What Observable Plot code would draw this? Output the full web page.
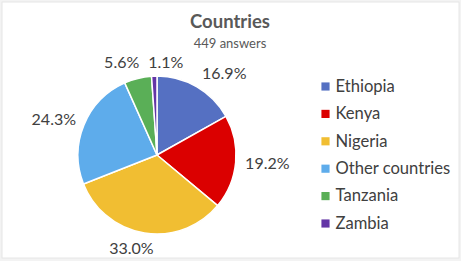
<!DOCTYPE html>
<html><head><meta charset="utf-8">
<script src="https://cdn.jsdelivr.net/npm/d3@7"></script>
<script src="https://cdn.jsdelivr.net/npm/@observablehq/plot@0.6"></script>
<style>body{margin:0;background:#fff} svg{display:block}</style>
</head><body><div id="chart"></div>
<script>
const countries = ["Ethiopia", "Kenya", "Nigeria", "Other countries", "Tanzania", "Zambia"];
const shares = [16.9, 19.2, 33.0, 24.3, 5.6, 1.1];
const palette = ["#5570c2", "#db0000", "#f1be32", "#5eaceb", "#5aaf57", "#6335a6"];
const title = "Countries";
const subtitle = "449 answers";

const W = 461, H = 261, CX = 157, CY = 155, R = 79;
const FONT = "Lato, sans-serif";
const rows = countries.map((c, i) => ({country: c, share: shares[i]}));
const pie = d3.pie().value(d => d.share).sort(null)(rows);

const labelSize = 16;
const ctx = document.createElement("canvas").getContext("2d");
ctx.font = `${labelSize}px Lato`;
const measure = t => { const m = ctx.measureText(t).width; return m > 0 ? m : t.length * labelSize * 0.5; };

// Outside-end label placement: the label box touches the slice's mid-angle ray
// just outside the rim, with the touching point sliding round the box.
const clamp = v => Math.max(0, Math.min(1, v));
const boxes = pie.map(p => {
  const a = (p.startAngle + p.endAngle) / 2;
  const text = p.data.share.toFixed(1) + "%";
  const w = measure(text), h = 14;
  const d = R + 9;
  const px = Math.sin(a) * d, py = -Math.cos(a) * d;
  const fx = clamp(0.5 - 1.7 * Math.sin(a)), fy = clamp(0.5 + 0.5 * Math.cos(a));
  return {cx: px + (0.5 - fx) * w, cy: py + (0.5 - fy) * h, w, h, text, share: p.data.share};
});
// push overlapping neighbours apart horizontally (smaller slice moves)
for (let i = 0; i < boxes.length; i++) {
  const A = boxes[i], B = boxes[(i + 1) % boxes.length];
  const gap = 9;
  if (Math.abs(A.cy - B.cy) < (A.h + B.h) / 2 && Math.abs(A.cx - B.cx) < (A.w + B.w) / 2 + gap) {
    const [small, big] = A.share < B.share ? [A, B] : [B, A];
    const dir = small.cx >= big.cx ? 1 : -1;
    small.cx = big.cx + dir * ((A.w + B.w) / 2 + gap);
    small.cy = big.cy;
  }
}
const labels = boxes.map(b => ({x: b.cx / R, y: b.cy / R, text: b.text}));

function slices(index, scales) {
  const g = d3.create("svg:g");
  const x0 = scales.x(0), y0 = scales.y(0), r = scales.x(1) - scales.x(0);
  const arc = d3.arc().innerRadius(0).outerRadius(r);
  g.attr("transform", `translate(${x0},${y0})`)
    .selectAll("path").data(pie).join("path")
    .attr("d", arc)
    .attr("fill", d => scales.color ? scales.color(d.data.country) : palette[d.index])
    .attr("stroke", "white").attr("stroke-width", 1.5).attr("stroke-linejoin", "round");
  return g.node();
}

const legendY = (i) => (86 + i * 27.4 - CY) / R;

const chart = Plot.plot({
  width: W, height: H, margin: 0,
  x: {domain: [-CX / R, (W - CX) / R], range: [0, W], axis: null},
  y: {domain: [-CY / R, (H - CY) / R], range: [0, H], axis: null},
  color: {domain: countries, range: palette},
  style: {fontFamily: FONT, background: "#f3f3f3"},
  marks: [
    Plot.frame({fill: "white", stroke: "#e6e6e6", insetLeft: 1.5, insetTop: 1.5, insetRight: 2.5, insetBottom: 3.5}),
    slices,
    Plot.text(labels, {x: "x", y: "y", text: "text", fontSize: labelSize, fill: "#404040"}),
    Plot.dot(countries, {x: () => (325 - CX) / R, y: (d, i) => legendY(i), fill: d => d, symbol: "square", r: 4.6}),
    Plot.text(countries, {x: () => (335 - CX) / R, y: (d, i) => legendY(i), text: d => d, textAnchor: "start", fontSize: 16.6, fill: "#404040"}),
    Plot.text([title], {frameAnchor: "top", lineAnchor: "middle", dx: -1, dy: 22, text: d => d, fontSize: 18.5, fontWeight: "bold", fill: "#595959"}),
    Plot.text([subtitle], {frameAnchor: "top", lineAnchor: "middle", dx: -1, dy: 43, text: d => d, fontSize: 13, fill: "#595959"})
  ]
});
document.getElementById("chart").append(chart);
</script>
</body></html>
